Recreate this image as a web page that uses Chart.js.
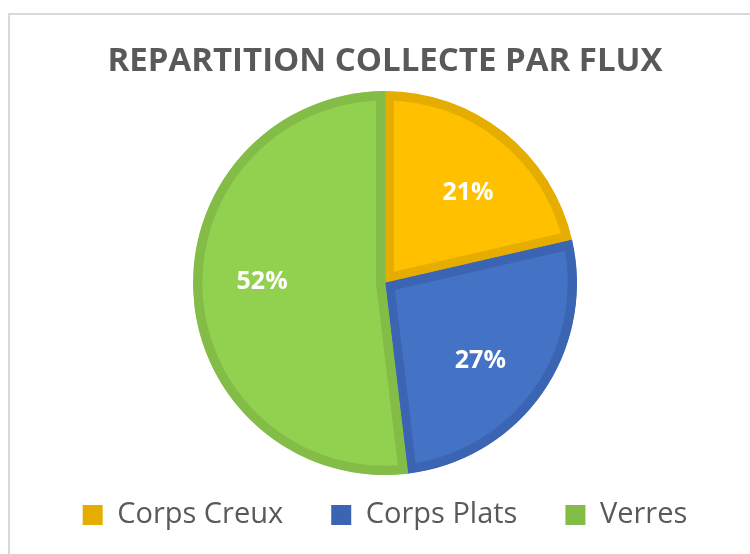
<!doctype html>
<html>
<head>
    <meta charset="UTF-8">
    <script src="https://cdn.jsdelivr.net/npm/chart.js"></script>
    <style>
        html, body { margin: 0; padding: 0; background: #fff; overflow: hidden; }
        #frame { position: absolute; left: 8px; top: 13px; width: 900px; height: 700px; border: 2px solid #d9d9d9; }
        #chart { position: absolute; left: 0; top: 0; }
    </style>
</head>
<body>
    <div id="frame"></div>
    <canvas id="chart" width="750" height="554"></canvas>

<script>
    const labels = ['Corps Creux', 'Corps Plats', 'Verres'];
    const values = [21.4, 26.7, 51.9];
    const fillColors = ['#FFC000', '#4472C4', '#92D050'];
    const edgeColors = ['#E5AD00', '#3B65B3', '#84BC48'];

    // percentage labels drawn inside each slice
    const sliceLabels = {
        id: 'sliceLabels',
        afterDatasetsDraw(chart) {
            const ctx = chart.ctx;
            const meta = chart.getDatasetMeta(0);
            const total = values.reduce((a, b) => a + b, 0);
            ctx.save();
            ctx.fillStyle = '#ffffff';
            ctx.font = 'bold 25px "Open Sans"';
            ctx.textAlign = 'center';
            ctx.textBaseline = 'middle';
            meta.data.forEach((arc, i) => {
                const p = arc.getProps(['x', 'y', 'startAngle', 'endAngle', 'outerRadius'], true);
                const mid = (p.startAngle + p.endAngle) / 2 + 0.07;
                const r = p.outerRadius * 0.64;
                const txt = Math.round(values[i] / total * 100) + '%';
                ctx.fillText(txt, p.x + Math.cos(mid) * r, p.y + Math.sin(mid) * r);
            });
            ctx.restore();
        }
    };

    new Chart(document.getElementById('chart'), {
        type: 'pie',
        data: {
            labels: labels,
            datasets: [{
                data: values,
                backgroundColor: fillColors,
                borderColor: edgeColors,
                borderWidth: 9,
                borderAlign: 'inner',
                radius: 192
            }]
        },
        options: {
            responsive: false,
            animation: false,
            layout: { padding: { left: 20, right: 0, top: 0, bottom: 14.5 } },
            plugins: {
                title: {
                    display: true,
                    text: 'REPARTITION COLLECTE PAR FLUX',
                    color: '#595959',
                    font: { family: 'Open Sans', size: 33, weight: 'bold' },
                    padding: { top: 42, bottom: 32 }
                },
                legend: {
                    position: 'bottom',
                    labels: {
                        color: '#595959',
                        font: { family: 'Open Sans', size: 29 },
                        boxWidth: 20,
                        boxHeight: 20,
                        padding: 48,
                        generateLabels(chart) {
                            const items = Chart.overrides.pie.plugins.legend.labels.generateLabels(chart);
                            items.forEach((it, i) => {
                                it.fillStyle = edgeColors[i];
                                it.strokeStyle = edgeColors[i];
                                it.lineWidth = 0;
                            });
                            return items;
                        }
                    }
                },
                tooltip: { enabled: false }
            }
        },
        plugins: [sliceLabels]
    });
</script>
</body>
</html>
